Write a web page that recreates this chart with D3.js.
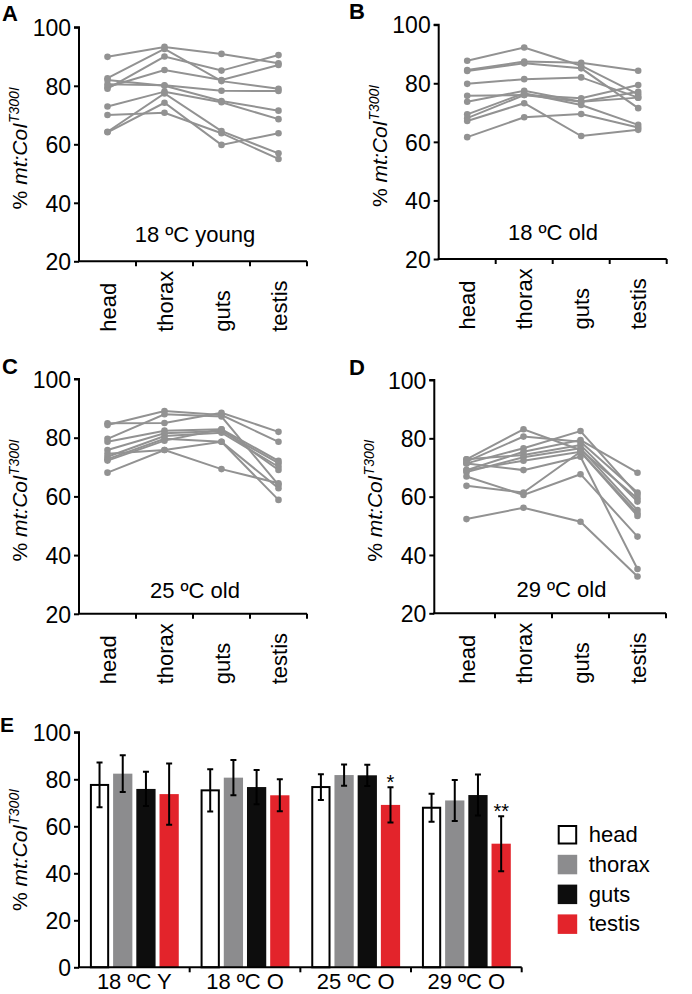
<!DOCTYPE html>
<html><head><meta charset="utf-8">
<script src="https://cdn.jsdelivr.net/npm/d3@7"></script>
<style>
html,body{margin:0;padding:0;background:#fff;}
svg{display:block;font-family:"Liberation Sans",Arial,Helvetica,sans-serif;}
</style></head><body>
<svg id="c" width="692" height="994"></svg>
<script>
// ---------- data ----------
const tissues = ["head", "thorax", "guts", "testis"];
const lineTicks = [20, 40, 60, 80, 100];
const barTicks = [0, 20, 40, 60, 80, 100];

// each row: one fly, values for head, thorax, guts, testis
const panelA = [
  [89.9, 93.3, 90.9, 87.7],
  [82.6, 92.6, 81.6, 79.0],
  [79.0, 90.0, 85.2, 90.5],
  [79.6, 85.4, 82.0, 87.1],
  [80.5, 80.2, 78.3, 78.2],
  [82.0, 80.0, 74.8, 71.5],
  [72.9, 78.0, 74.4, 68.6],
  [70.0, 70.8, 63.8, 55.0],
  [64.3, 77.4, 64.5, 56.9],
  [64.1, 74.2, 59.8, 63.8]
];
const panelB = [
  [87.7, 92.2, 86.0, 76.2],
  [84.5, 87.4, 87.0, 84.3],
  [84.2, 86.8, 85.1, 71.5],
  [79.8, 81.4, 82.0, 75.1],
  [75.7, 76.0, 74.9, 79.4],
  [73.7, 77.4, 73.7, 77.1],
  [69.4, 76.6, 72.6, 65.8],
  [68.1, 76.0, 73.7, 75.1],
  [67.1, 73.2, 62.0, 64.1],
  [61.6, 68.4, 69.5, 64.9]
];
const panelC = [
  [84.9, 85.0, 88.5, 82.0],
  [84.3, 89.1, 87.7, 78.6],
  [79.6, 88.0, 87.2, 63.9],
  [78.6, 82.4, 82.9, 72.1],
  [75.8, 81.5, 82.3, 71.3],
  [73.5, 80.6, 81.7, 70.1],
  [72.7, 79.6, 78.6, 62.8],
  [72.2, 79.0, 82.9, 69.0],
  [68.1, 75.8, 78.6, 58.8],
  [74.5, 75.8, 69.3, 64.5]
];
const panelD = [
  [72.8, 83.1, 76.0, 59.4],
  [72.0, 80.6, 78.8, 61.4],
  [71.4, 76.6, 82.5, 60.6],
  [69.1, 75.4, 79.4, 68.2],
  [72.8, 74.3, 77.7, 58.3],
  [68.4, 73.5, 76.6, 55.4],
  [69.1, 72.3, 75.4, 53.4],
  [71.4, 69.1, 73.7, 35.2],
  [66.9, 60.6, 67.7, 46.3],
  [63.7, 61.4, 75.4, 54.3],
  [52.3, 56.2, 51.4, 32.6]
];
const panelTitles = ["18 ºC young", "18 ºC old", "25 ºC old", "29 ºC old"];
const panelLetters = ["A", "B", "C", "D"];

const groups = ["18 ºC Y", "18 ºC O", "25 ºC O", "29 ºC O"];
const meanHead   = [77.6, 75.3, 76.7, 67.9];
const errHead    = [9.5, 9.0, 5.5, 6.0];
const meanThorax = [82.4, 80.7, 81.8, 71.0];
const errThorax  = [7.8, 7.5, 4.5, 8.7];
const meanGuts   = [75.9, 76.7, 81.7, 73.3];
const errGuts    = [7.3, 7.3, 4.5, 8.7];
const meanTestis = [73.7, 73.2, 69.1, 52.6];
const errTestis  = [13.0, 6.8, 7.5, 11.7];
const testisStars = ["", "", "*", "**"];

// ---------- drawing ----------
const svg = d3.select("#c");
const FONT = 22;
const TICKFONT = 23;
const lineColor = "#929292";
const tissueFill = {head: "#ffffff", thorax: "#8c8c8e", guts: "#0d0d0d", testis: "#e3242b"};

function yTitle(g, x, y) {
  const t = g.append("text")
    .attr("transform", `translate(${x},${y}) rotate(-90)`)
    .attr("text-anchor", "middle")
    .attr("font-size", 21).attr("fill", "#000");
  t.append("tspan").text("% ");
  t.append("tspan").attr("font-style", "italic").text("mt:CoI");
  t.append("tspan").attr("font-style", "italic").attr("font-size", 14).attr("dy", -8).text("T300I");
}

const panels = [
  {data: panelA, ax: 79,    bx: 79,    top: 27.3, bot: 261.3, lx: 2,   ly: 20.5, tx: 195,   ty: 242},
  {data: panelB, ax: 438.7, bx: 438.7, top: 24.7, bot: 259,   lx: 349, ly: 18.5, tx: 553,   ty: 240},
  {data: panelC, ax: 79,    bx: 79,    top: 379,  bot: 613.8, lx: 2,   ly: 373.5, tx: 195,  ty: 598},
  {data: panelD, ax: 434.3, bx: 438,   top: 380,  bot: 613.3, lx: 349, ly: 375, tx: 561.5,  ty: 597}
];

panels.forEach((p, i) => {
  const g = svg.append("g");
  const y = d3.scaleLinear().domain([20, 100]).range([p.bot, p.top]);
  const x = d3.scaleBand().domain(tissues).range([p.bx, p.bx + 228]);

  // y axis
  const ya = g.append("g").attr("transform", `translate(${p.ax},0)`)
    .call(d3.axisLeft(y).tickValues(lineTicks).tickSize(5).tickPadding(3));
  ya.select(".domain").attr("d", `M-5,${p.top}H0V${p.bot}`).attr("stroke-width", 2);
  ya.selectAll(".tick line").attr("stroke-width", 2);
  ya.selectAll(".tick text").attr("font-size", TICKFONT).attr("font-family", null).attr("fill", "#000").attr("dy", "0.36em");

  // x axis with ticks at band edges
  g.append("line").attr("x1", p.ax - 1).attr("x2", p.bx + 228).attr("y1", p.bot).attr("y2", p.bot)
    .attr("stroke", "#000").attr("stroke-width", 2);
  const edges = tissues.map(t => x(t)).concat([p.bx + 228]);
  g.selectAll(".xt").data(edges.slice(1)).join("line")
    .attr("x1", d => d).attr("x2", d => d).attr("y1", p.bot).attr("y2", p.bot + 5)
    .attr("stroke", "#000").attr("stroke-width", 2);
  g.selectAll(".xl").data(tissues).join("text")
    .attr("transform", d => `translate(${x(d) + x.bandwidth() / 2 + 8},${p.bot + 70.5}) rotate(-90)`)
    .attr("text-anchor", "start").attr("font-size", FONT).text(d => d);

  // lines
  const line = d3.line().x((v, j) => x(tissues[j]) + x.bandwidth() / 2).y(v => y(v));
  g.selectAll(".fly").data(p.data).join("path")
    .attr("d", line).attr("fill", "none").attr("stroke", lineColor).attr("stroke-width", 2);
  p.data.forEach(row => {
    g.selectAll(null).data(row).join("circle")
      .attr("cx", (v, j) => x(tissues[j]) + x.bandwidth() / 2).attr("cy", v => y(v))
      .attr("r", 3.3).attr("fill", lineColor);
  });

  g.append("text").attr("x", p.tx).attr("y", p.ty).attr("text-anchor", "middle")
    .attr("font-size", FONT).text(panelTitles[i]);
  g.append("text").attr("x", p.lx).attr("y", p.ly).attr("font-size", 22).attr("font-weight", "bold")
    .text(panelLetters[i]);
  yTitle(g, p.ax - 52, (p.top + p.bot) / 2 + 4);
});

// ---------- panel E ----------
const gE = svg.append("g");
const yE = d3.scaleLinear().domain([0, 100]).range([967.3, 732.3]);
const xG = d3.scaleBand().domain(groups).range([79, 521.7]);
const xT = d3.scaleBand().domain(tissues).range([0, xG.bandwidth()]).paddingInner(0.17).paddingOuter(0.47);

const yaE = gE.append("g").attr("transform", "translate(79,0)")
  .call(d3.axisLeft(yE).tickValues(barTicks).tickSize(5).tickPadding(3));
yaE.select(".domain").attr("d", `M-5,${yE(100)}H0V${yE(0)}`).attr("stroke-width", 2);
yaE.selectAll(".tick line").attr("stroke-width", 2);
yaE.selectAll(".tick text").attr("font-size", TICKFONT).attr("font-family", null).attr("fill", "#000").attr("dy", "0.36em");

const barData = [];
const means = {head: meanHead, thorax: meanThorax, guts: meanGuts, testis: meanTestis};
const errs = {head: errHead, thorax: errThorax, guts: errGuts, testis: errTestis};
groups.forEach((gname, gi) => tissues.forEach(t => barData.push({g: gname, gi, t, m: means[t][gi], e: errs[t][gi]})));

gE.selectAll(".bar").data(barData).join("rect")
  .attr("x", d => xG(d.g) + xT(d.t) + (d.t === "head" ? 1 : 0))
  .attr("width", d => xT.bandwidth() - (d.t === "head" ? 2 : 0))
  .attr("y", d => yE(d.m))
  .attr("height", d => yE(0) - yE(d.m))
  .attr("fill", d => tissueFill[d.t])
  .attr("stroke", d => d.t === "head" ? "#000" : "none")
  .attr("stroke-width", 2);

const cx = d => xG(d.g) + xT(d.t) + xT.bandwidth() / 2;
gE.selectAll(".eb").data(barData).join("path")
  .attr("d", d => `M${cx(d)},${yE(d.m + d.e)}V${yE(d.m - d.e)}M${cx(d) - 3},${yE(d.m + d.e)}H${cx(d) + 3}M${cx(d) - 3},${yE(d.m - d.e)}H${cx(d) + 3}`)
  .attr("stroke", "#000").attr("stroke-width", 2).attr("fill", "none");

gE.selectAll(".star").data(barData.filter(d => d.t === "testis" && testisStars[d.gi]))
  .join("text").attr("x", cx).attr("y", d => yE(d.m + d.e) + 2)
  .attr("text-anchor", "middle").attr("font-size", 20).text(d => testisStars[d.gi]);

// x axis
gE.append("line").attr("x1", 78).attr("x2", 521.7).attr("y1", yE(0)).attr("y2", yE(0))
  .attr("stroke", "#000").attr("stroke-width", 2);
gE.selectAll(".gt").data(groups.slice(1).map(gname => xG(gname)).concat([521.7])).join("line")
  .attr("x1", d => d).attr("x2", d => d).attr("y1", yE(0)).attr("y2", yE(0) + 5)
  .attr("stroke", "#000").attr("stroke-width", 2);
gE.selectAll(".gl").data(groups).join("text")
  .attr("x", d => xG(d) + xG.bandwidth() / 2).attr("y", 989).attr("text-anchor", "middle")
  .attr("font-size", FONT).text(d => d);

gE.append("text").attr("x", 0).attr("y", 732.3).attr("font-size", 21).attr("font-weight", "bold").text("E");
yTitle(gE, 27, 850);

// legend
const leg = gE.append("g").attr("transform", "translate(557.7,825)");
tissues.forEach((t, i) => {
  leg.append("rect").attr("x", t === "head" ? 1 : 0).attr("y", i * 29.8 + (t === "head" ? 1 : 0))
    .attr("width", t === "head" ? 17.5 : 19.5).attr("height", t === "head" ? 17.5 : 19.5)
    .attr("fill", tissueFill[t]).attr("stroke", t === "head" ? "#000" : "none").attr("stroke-width", 2);
  leg.append("text").attr("x", 31).attr("y", i * 29.8 + 17).attr("font-size", FONT).text(t);
});
</script>
</body></html>
